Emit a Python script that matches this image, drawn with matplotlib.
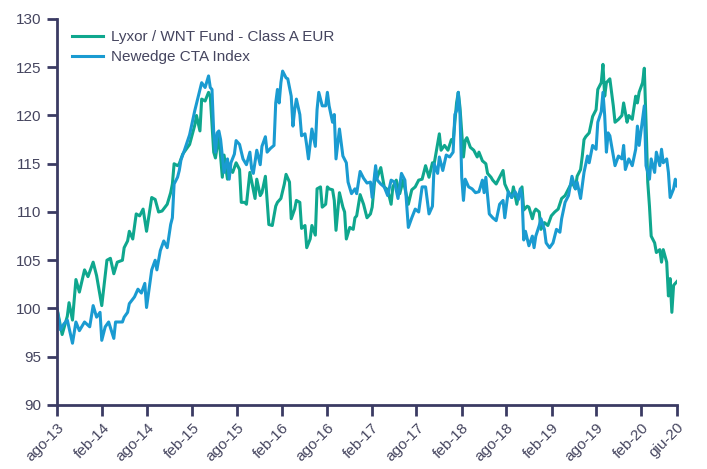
import numpy as np
import pandas as pd
import matplotlib
matplotlib.use('Agg')
import matplotlib.pyplot as plt

plt.rcParams['font.family'] = ['Liberation Sans', 'DejaVu Sans']

# weekly observations, week index from 1 Aug 2013
lyxor_weeks = [0, 3, 6, 7, 9, 11, 13, 16, 18, 21, 23, 26, 29, 31, 33, 35, 38, 39, 41, 42,
               44, 46, 48, 50, 52, 55, 57, 59, 61, 64, 66, 67, 68, 70, 71, 73, 77, 80, 81, 83,
               84, 86, 88, 89, 91, 92, 94, 96, 97, 99, 100, 102, 104, 106, 107, 109, 110, 112, 114, 115,
               116, 118, 119, 121, 123, 125, 127, 128, 130, 132, 133, 135, 136, 138, 139, 141, 142, 144, 145, 147,
               148, 150, 151, 153, 154, 156, 157, 158, 160, 161, 162, 164, 166, 167, 168, 170, 172, 173, 174, 176,
               178, 180, 182, 183, 185, 186, 188, 190, 192, 194, 195, 197, 199, 201, 204, 206, 208, 210, 212, 214,
               216, 218, 219, 222, 223, 225, 227, 229, 230, 232, 233, 234, 236, 237, 238, 240, 242, 244, 245, 247,
               249, 250, 252, 253, 255, 257, 259, 260, 262, 264, 265, 267, 268, 270, 271, 273, 274, 276, 277, 278,
               280, 281, 283, 285, 287, 289, 291, 293, 295, 297, 299, 301, 302, 304, 305, 306, 307, 309, 311, 313,
               314, 316, 317, 318, 319, 321, 323, 324, 326, 328, 329, 331, 332, 334, 336, 337, 338, 340, 341, 342,
               343, 344, 345, 347, 348, 350, 351, 352, 354, 355, 356, 357, 358, 360]
lyxor = [100.0, 97.3, 99.2, 100.6, 98.8, 103.0, 101.7, 104.0, 103.3, 104.8, 103.4, 100.3, 105.0, 105.2, 103.6, 104.8, 105.0, 106.3, 107.0, 108.0,
         107.2, 109.8, 109.6, 110.3, 108.0, 111.5, 111.3, 110.0, 110.1, 110.8, 112.0, 112.9, 115.0, 114.8, 115.0, 116.0, 117.0, 119.0, 120.0, 118.4,
         121.7, 121.5, 122.4, 122.0, 116.2, 115.6, 117.9, 113.6, 115.9, 113.4, 114.6, 114.1, 115.1, 114.4, 111.0, 111.0, 110.8, 114.1, 112.3, 111.4,
         113.4, 111.7, 112.0, 113.7, 108.7, 108.6, 110.6, 111.0, 111.4, 112.9, 113.9, 113.1, 109.3, 110.3, 111.2, 111.0, 108.3, 108.6, 106.3, 107.2,
         108.6, 107.6, 112.4, 112.6, 110.5, 110.8, 112.6, 112.4, 112.3, 111.2, 108.1, 112.0, 110.5, 110.0, 107.2, 108.4, 108.2, 109.4, 109.6, 111.8,
         110.8, 109.4, 109.8, 110.5, 114.3, 113.6, 114.6, 112.6, 112.3, 110.8, 112.6, 113.3, 111.9, 113.3, 110.8, 112.3, 112.6, 113.3, 113.4, 114.8,
         113.6, 115.1, 115.0, 118.1, 116.4, 116.9, 116.4, 117.5, 117.3, 121.3, 122.4, 120.8, 115.7, 117.4, 117.7, 116.7, 116.4, 115.7, 116.2, 115.3,
         115.0, 114.0, 113.6, 113.3, 112.9, 113.6, 114.3, 112.9, 112.1, 111.5, 112.6, 110.8, 111.8, 112.6, 110.2, 110.6, 110.5, 109.3, 110.0, 110.3,
         110.0, 108.2, 108.9, 108.6, 109.6, 110.0, 110.3, 111.4, 111.7, 112.4, 113.1, 112.4, 113.7, 114.4, 115.8, 117.5, 117.8, 118.2, 119.9, 120.6,
         122.7, 123.4, 125.3, 122.0, 123.4, 123.8, 121.0, 119.3, 119.6, 120.0, 121.3, 119.3, 120.0, 119.6, 122.0, 121.3, 122.4, 123.4, 124.9, 119.3,
         113.1, 110.6, 107.5, 106.8, 105.8, 106.1, 104.8, 106.1, 104.8, 101.3, 103.1, 99.6, 102.4, 102.8]

newedge_weeks = [0, 2, 4, 6, 9, 11, 13, 16, 19, 21, 23, 25, 26, 28, 30, 33, 34, 38, 39, 41,
                 42, 45, 47, 49, 51, 52, 55, 57, 58, 60, 62, 64, 66, 67, 68, 70, 71, 72, 74, 77,
                 80, 83, 84, 86, 88, 89, 90, 91, 92, 93, 94, 95, 97, 99, 100, 101, 103, 104, 106, 108,
                 110, 112, 113, 114, 116, 118, 119, 121, 122, 124, 126, 127, 128, 129, 130, 131, 133, 134, 136, 137,
                 138, 139, 141, 142, 144, 145, 146, 148, 150, 151, 152, 154, 156, 157, 158, 160, 161, 162, 164, 166,
                 168, 169, 171, 173, 174, 176, 178, 180, 182, 183, 185, 186, 188, 190, 192, 194, 196, 198, 200, 202,
                 204, 206, 208, 210, 212, 214, 216, 218, 219, 221, 222, 224, 226, 228, 230, 231, 232, 233, 234, 235,
                 236, 237, 239, 241, 243, 245, 247, 248, 249, 251, 253, 255, 257, 259, 260, 262, 264, 266, 268, 269,
                 270, 271, 272, 274, 276, 277, 278, 280, 281, 283, 284, 286, 288, 290, 292, 293, 295, 297, 299, 301,
                 302, 304, 306, 308, 309, 311, 313, 314, 316, 317, 318, 319, 320, 321, 323, 324, 326, 328, 329, 330,
                 332, 334, 336, 337, 338, 340, 341, 342, 344, 345, 347, 348, 350, 351, 352, 354, 355, 356, 358, 359,
                 360]
newedge = [100.0, 97.8, 98.4, 98.8, 96.4, 98.6, 97.7, 98.6, 98.1, 100.3, 99.1, 99.6, 96.7, 98.1, 98.6, 96.9, 98.6, 98.6, 99.1, 99.6,
           100.5, 101.2, 102.0, 101.6, 102.6, 100.1, 104.0, 105.0, 104.0, 106.0, 107.0, 106.3, 108.7, 109.4, 112.9, 113.6, 114.3, 115.4, 116.4, 118.0,
           120.5, 122.7, 123.4, 122.9, 124.1, 122.9, 122.7, 118.2, 116.2, 118.2, 118.4, 117.5, 114.1, 115.5, 113.4, 115.1, 116.0, 117.4, 117.0, 115.5,
           114.9, 116.2, 114.5, 114.0, 116.4, 114.9, 116.8, 117.8, 116.2, 116.6, 116.9, 121.3, 122.7, 121.3, 123.4, 124.6, 123.9, 123.8, 122.0, 118.9,
           120.6, 121.7, 120.1, 117.9, 118.1, 116.9, 115.5, 118.6, 116.8, 120.6, 122.4, 121.0, 121.0, 122.4, 121.0, 119.3, 120.1, 115.5, 118.6, 115.8,
           115.1, 113.1, 111.9, 112.4, 111.9, 114.2, 113.5, 113.0, 113.1, 111.5, 114.8, 113.3, 112.9, 112.6, 111.7, 113.3, 113.1, 111.4, 114.0, 113.3,
           108.4, 109.4, 110.3, 110.0, 112.6, 112.6, 109.8, 110.6, 115.0, 114.0, 115.7, 114.3, 115.9, 115.7, 116.2, 120.1, 120.5, 122.4, 120.1, 113.6,
           111.2, 113.4, 112.6, 112.4, 112.0, 112.1, 113.3, 112.0, 113.6, 109.8, 109.4, 109.1, 110.8, 111.2, 109.4, 112.1, 111.5, 112.1, 111.3, 112.4,
           111.7, 107.1, 108.0, 106.5, 107.5, 106.3, 107.5, 108.6, 109.3, 108.2, 106.8, 106.3, 106.8, 108.2, 107.9, 109.3, 111.0, 111.7, 113.7, 112.4,
           113.1, 111.4, 114.1, 115.8, 115.1, 116.9, 116.5, 119.3, 120.4, 122.4, 120.0, 116.2, 118.2, 117.9, 115.8, 114.8, 115.8, 115.5, 116.9, 114.4,
           115.5, 114.8, 116.5, 118.9, 116.9, 119.6, 121.0, 114.8, 113.4, 115.5, 114.1, 116.2, 114.8, 116.5, 115.1, 115.5, 114.1, 111.5, 112.4, 113.4,
           112.7]

tick_dates = ['2013-08-01', '2014-02-01', '2014-08-01', '2015-02-01', '2015-08-01', '2016-02-01',
              '2016-08-01', '2017-02-01', '2017-08-01', '2018-02-01', '2018-08-01', '2019-02-01',
              '2019-08-01', '2020-02-01', '2020-06-25']
tick_labels = ['ago-13', 'feb-14', 'ago-14', 'feb-15', 'ago-15', 'feb-16', 'ago-16', 'feb-17',
               'ago-17', 'feb-18', 'ago-18', 'feb-19', 'ago-19', 'feb-20', 'giu-20']

start = pd.Timestamp('2013-08-01')
lyxor_dates = start + pd.to_timedelta(np.array(lyxor_weeks) * 7, unit='D')
newedge_dates = start + pd.to_timedelta(np.array(newedge_weeks) * 7, unit='D')

axis_col = '#3b3b63'
text_col = '#45455f'

fig = plt.figure(figsize=(7.07, 4.69), dpi=100)
ax = fig.add_axes([0.0806, 0.1365, 0.877, 0.823])

ax.plot(lyxor_dates, lyxor, color='#0fa78e', lw=2.2, label='Lyxor / WNT Fund - Class A EUR')
ax.plot(newedge_dates, newedge, color='#1a9bd1', lw=2.2, label='Newedge CTA Index')

ax.set_ylim(90, 130)
ax.set_yticks(range(90, 131, 5))
ax.set_xlim(pd.Timestamp('2013-08-01'), pd.Timestamp('2020-06-25'))
ax.set_xticks(pd.to_datetime(tick_dates))
ax.set_xticklabels(tick_labels, rotation=45, ha='right', rotation_mode='anchor')

for s in ['top', 'right']:
    ax.spines[s].set_visible(False)
for s in ['left', 'bottom']:
    ax.spines[s].set_color(axis_col)
    ax.spines[s].set_linewidth(2)
ax.tick_params(axis='both', colors=axis_col, width=2, labelcolor=text_col, labelsize=11)
ax.tick_params(axis='y', length=7, pad=4)
ax.tick_params(axis='x', length=8, pad=3)

leg = ax.legend(loc='upper left', bbox_to_anchor=(0.01, 0.995), frameon=False, fontsize=11,
                handlelength=2.0, handletextpad=0.55, labelspacing=0.4, borderaxespad=0.2)
for t in leg.get_texts():
    t.set_color(text_col)

fig.savefig('out.png', dpi=100)
